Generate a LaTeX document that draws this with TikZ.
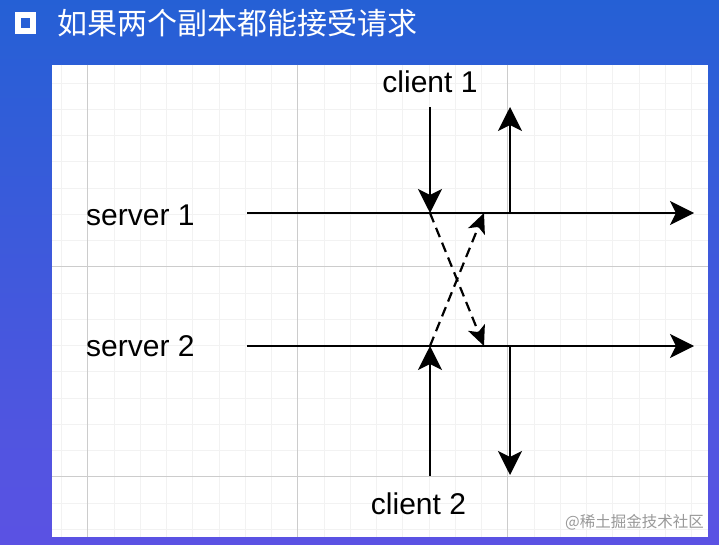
\documentclass[tikz,border=0pt]{standalone}
\usepackage{fontspec}
\setmainfont{Liberation Sans}
\newfontfamily\cjk{Noto Sans CJK SC}
\usetikzlibrary{arrows.meta}

\definecolor{bgtop}{HTML}{2560D5}
\definecolor{bgbottom}{HTML}{5B52E3}

\begin{document}
\begin{tikzpicture}[
    x=1pt, y=-1pt,
    lbl/.style={font=\fontsize{30}{36}\selectfont, inner sep=0pt, anchor=base},
    msg/.style={-{Stealth[length=24pt, width=24pt, inset=6pt]}, line width=2.2pt, black},
    sync/.style={-{Stealth[length=20pt, width=18pt, inset=5pt]}, line width=2.2pt, black, dash pattern=on 10pt off 6pt},
    gridminor/.style={line width=0.8pt, black!5},
    gridmajor/.style={line width=0.9pt, black!20}
]

    % Background and title
    \useasboundingbox (0,0) rectangle (719,545);
    \shade[top color=bgtop, bottom color=bgbottom] (0,0) rectangle (719,545);
    \draw[white, line width=6pt] (18,15.3) rectangle (33,31);
    \node[anchor=base west, inner sep=0pt, text=white, font=\cjk\fontsize{30}{36}\selectfont] (title) at (57,35) {如果两个副本都能接受请求};

    % White panel with grid
    \fill[white] (52,65) rectangle (708,537);
    \begin{scope}
        \clip (52,65) rectangle (708,537);
        \foreach \i in {0,...,25} {
            \draw[gridminor] ({61.45+26.25*\i},65) -- ++(0,472);
            \draw[gridminor] (52,{56.7+26.25*\i}) -- ++(656,0);
        }
        \foreach \i in {0,1,2} {
            \draw[gridmajor] ({87.7+210*\i},65) -- ++(0,472);
        }
        \draw[gridmajor] (52,266.7) -- ++(656,0);
        \draw[gridmajor] (52,476.7) -- ++(656,0);
    \end{scope}

    % Labels
    \node[lbl] (client1) at (430,92.3) {client 1};
    \node[lbl, anchor=base west] (server1) at (86,225.5) {server 1};
    \node[lbl, anchor=base west] (server2) at (86,356) {server 2};
    \node[lbl] (client2) at (418.5,514) {client 2};

    % Timeline end points
    \coordinate (s1start) at (247,213);
    \coordinate (s1end) at (694,213);
    \coordinate (s2start) at (247,346);
    \coordinate (s2end) at (694,346);

    % Request / response points
    \coordinate (c1req) at (430,107);
    \coordinate (c1resp) at (510,107);
    \coordinate (c2req) at (430,476);
    \coordinate (c2resp) at (510,475);
    \coordinate (s1in) at (430,213);
    \coordinate (s1out) at (510,213);
    \coordinate (s1sync) at (484,213);
    \coordinate (s2in) at (430,346);
    \coordinate (s2out) at (510,346);
    \coordinate (s2sync) at (484,346);

    % Server timelines
    \draw[msg] (s1start) -- (s1end);
    \draw[msg] (s2start) -- (s2end);

    % Client 1 request and reply
    \draw[msg] (c1req) -- (s1in);
    \draw[msg] (s1out) -- (c1resp);

    % Client 2 request and reply
    \draw[msg] (c2req) -- (s2in);
    \draw[msg] (s2out) -- (c2resp);

    % Replication between servers
    \draw[sync] (s1in) -- (s2sync);
    \draw[sync] (s2in) -- (s1sync);

    % Watermark
    \node[anchor=base east, inner sep=0pt, text=black!40, font=\cjk\fontsize{15.5}{18}\selectfont] (mark) at (704,527) {@稀土掘金技术社区};

\end{tikzpicture}
\end{document}
